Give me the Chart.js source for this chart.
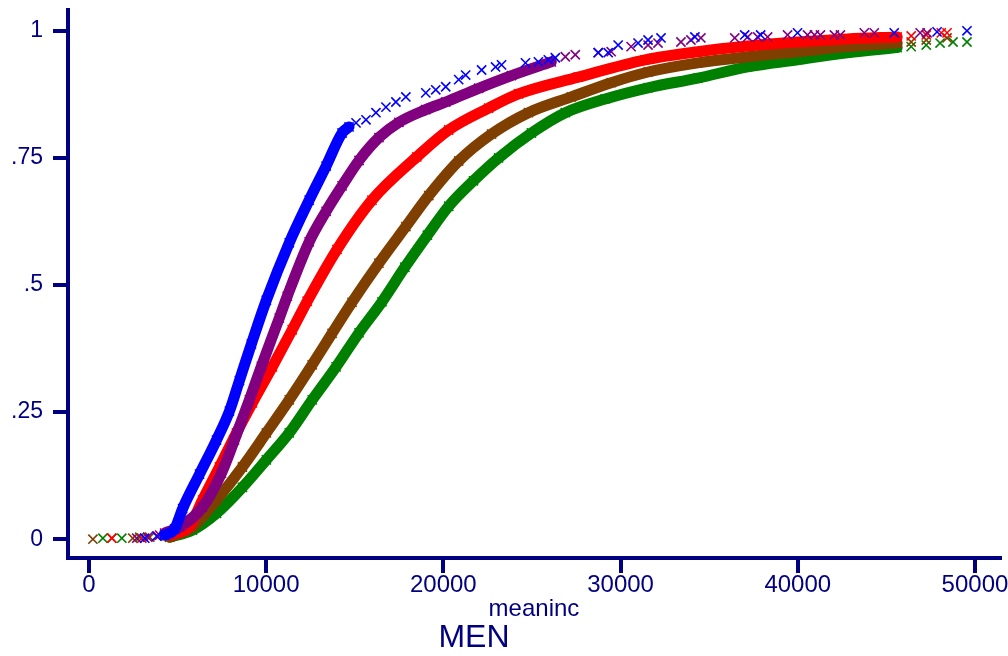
<!DOCTYPE html>
<html>
<head>
<meta charset="utf-8">
<script src="https://cdn.jsdelivr.net/npm/chart.js@4"></script>
<style>
html,body{margin:0;padding:0;background:#fff;}
#wrap{width:1008px;height:656px;}
</style>
</head>
<body>
<div id="wrap"><canvas id="c" width="1008" height="656"></canvas></div>
<script>
// ---- tick definitions ----
const xTickValues = [0, 10000, 20000, 30000, 40000, 50000];
const yTickValues = [0, 0.25, 0.5, 0.75, 1];
const yTickLabels = ['0', '.25', '.5', '.75', '1'];
const xTitle = 'meaninc';
const chartTitle = 'MEN';

// ---- series (meaninc, cumulative share) ----
// dense part of each curve
const blueBody = [[4274,0.008],[4837,0.020],[5287,0.060],[6243,0.128],[7199,0.195],[7930,0.252],[8492,0.312],[9167,0.384],[10011,0.470],[11304,0.583],[12429,0.667],[13385,0.734],[14285,0.799],[14679,0.811]];
const purpleBody = [[4274,0.012],[5118,0.024],[6411,0.063],[7480,0.130],[8211,0.195],[9055,0.274],[9730,0.340],[10742,0.435],[11192,0.478],[12429,0.585],[13385,0.645],[14285,0.695],[15241,0.745],[16366,0.790],[17491,0.820],[19009,0.845],[20134,0.860],[21990,0.887],[23846,0.912],[26095,0.939]];
const redBody = [[4555,0.008],[5680,0.026],[6411,0.077],[7367,0.142],[8324,0.209],[9223,0.268],[10348,0.339],[11473,0.412],[12316,0.468],[14000,0.570],[15972,0.667],[18503,0.752],[20302,0.805],[22552,0.848],[24240,0.876],[27614,0.909],[31382,0.943],[34363,0.959],[37175,0.970],[39987,0.978],[42799,0.984],[45611,0.988]];
const brownBody = [[4555,0.004],[5849,0.024],[7199,0.077],[8661,0.142],[10011,0.209],[11304,0.274],[12598,0.343],[13722,0.405],[14847,0.466],[16366,0.543],[17884,0.615],[19178,0.676],[20865,0.744],[22721,0.797],[24802,0.839],[27220,0.870],[29470,0.898],[31551,0.919],[34363,0.937],[37175,0.949],[39987,0.959],[42799,0.969],[45611,0.976]];
const greenBody = [[4555,0.004],[5849,0.018],[7199,0.051],[8661,0.102],[10011,0.156],[11304,0.209],[12598,0.274],[13947,0.339],[15241,0.406],[16535,0.467],[17828,0.535],[19100,0.598],[20303,0.655],[21700,0.705],[23115,0.750],[24971,0.799],[26883,0.839],[29133,0.866],[31551,0.888],[34363,0.907],[37175,0.929],[39987,0.943],[42799,0.957],[45611,0.967]];

// sparse crosses at both ends of each curve
const blueTail = [[3149,0.002],[3824,0.006],[15072,0.819],[15635,0.825],[16197,0.839],[16760,0.850],[17322,0.860],[17884,0.870],[19009,0.878],[19572,0.884],[20134,0.890],[20865,0.904],[21259,0.913],[22159,0.923],[22946,0.929],[23284,0.933],[24633,0.937],[25364,0.939],[25926,0.943],[26320,0.947],[28739,0.957],[29301,0.957],[29864,0.972],[30988,0.976],[31551,0.982],[32282,0.986],[34194,0.988],[37006,0.992],[37906,0.992],[39987,0.996],[45442,0.996],[47860,0.998],[49548,1.0]];
const purpleTail = [[2700,0.002],[3318,0.004],[3993,0.008],[26883,0.949],[27445,0.953],[28739,0.957],[29470,0.959],[30595,0.969],[31551,0.972],[32113,0.976],[33407,0.978],[33969,0.982],[34532,0.986],[36444,0.986],[37175,0.988],[37737,0.988],[38299,0.988],[39424,0.992],[40549,0.992],[40943,0.992],[41280,0.992],[42067,0.992],[42405,0.992],[43755,0.996],[44317,0.996],[46905,0.996],[47298,0.996]];
const redTail = [[1294,0.002],[2981,0.002],[3880,0.006],[46400,0.990],[47250,0.992],[48100,0.996],[48423,0.996]];
const brownTail = [[225,0.0],[1294,0.002],[2475,0.002],[3430,0.004],[46400,0.978],[47250,0.982],[48423,0.986]];
const greenTail = [[787,0.002],[1856,0.002],[2868,0.004],[46400,0.969],[47250,0.972],[48030,0.976],[48761,0.978],[49548,0.978]];

const colors = {blue:'#0000ff', purple:'#800080', red:'#ff0000', brown:'#7f3f00', green:'#008000'};
const navy = '#000080';

function pts(a){ return a.map(p => ({x:p[0], y:p[1]})); }
function body(arr, col, ord){
  return {data: pts(arr), showLine:true, cubicInterpolationMode: 'monotone',
    borderColor: col, backgroundColor: col, borderWidth: 11,
    borderCapStyle:'round', borderJoinStyle:'round', pointStyle:'crossRot', pointRadius:6.5,
    pointBorderWidth:1.6, pointBorderColor: col, order: ord};
}
function tail(arr, col, ord){
  return {data: pts(arr), showLine:false, borderColor: col, backgroundColor: col,
    pointStyle:'crossRot', pointRadius:6.5, pointBorderWidth:1.6, pointBorderColor: col, order: ord};
}

const font = 'Liberation Sans, Arial, Helvetica, sans-serif';

// bottom caption drawn as canvas text
const captionPlugin = {
  id: 'caption',
  afterDraw(chart) {
    const ctx = chart.ctx;
    ctx.save();
    ctx.font = '32px ' + font;
    ctx.fillStyle = navy;
    ctx.textAlign = 'center';
    ctx.textBaseline = 'middle';
    ctx.fillText(chartTitle, 474, 638);
    ctx.restore();
  }
};

new Chart(document.getElementById('c'), {
  type: 'scatter',
  data: { datasets: [
    body(blueBody, colors.blue, 0), tail(blueTail, colors.blue, 0),
    body(purpleBody, colors.purple, 1), tail(purpleTail, colors.purple, 1),
    body(redBody, colors.red, 2), tail(redTail, colors.red, 2),
    body(brownBody, colors.brown, 3), tail(brownTail, colors.brown, 3),
    body(greenBody, colors.green, 4), tail(greenTail, colors.green, 4)
  ]},
  plugins: [captionPlugin],
  options: {
    responsive: false, animation: false, devicePixelRatio: 1,
    layout: { padding: { left: 0, right: 5, top: 10, bottom: 36 } },
    plugins: { legend: { display: false }, tooltip: { enabled: false }, title: { display: false } },
    scales: {
      x: {
        type: 'linear', min: -1181, max: 51406,
        afterBuildTicks: s => { s.ticks = xTickValues.map(v => ({value: v})); },
        afterFit: s => { s.height = 62; s.paddingLeft = 0; s.paddingRight = 0; },
        border: { display: true, color: navy, width: 4 },
        grid: { display: true, drawOnChartArea: false, drawTicks: true, color: navy, lineWidth: 4, tickLength: 15, tickColor: navy, tickWidth: 4 },
        ticks: { color: navy, font: { family: font, size: 24 }, padding: -2, maxRotation: 0, autoSkip: false,
          callback: v => String(v) },
        title: { display: true, text: xTitle, color: navy, font: { family: font, size: 24, lineHeight: 0.9 }, padding: { top: 0, bottom: 0 } }
      },
      y: {
        type: 'linear', min: -0.037, max: 1.041,
        afterBuildTicks: s => { s.ticks = yTickValues.map(v => ({value: v})); },
        afterFit: s => { s.width = 68; s.paddingTop = 0; s.paddingBottom = 0; },
        border: { display: true, color: navy, width: 4 },
        grid: { display: true, drawOnChartArea: false, drawTicks: true, color: navy, lineWidth: 4, tickLength: 15, tickColor: navy, tickWidth: 4 },
        ticks: { color: navy, font: { family: font, size: 23 }, padding: 10, autoSkip: false,
          callback: v => { const i = yTickValues.indexOf(v); return i >= 0 ? yTickLabels[i] : ''; } }
      }
    }
  }
});
</script>
</body>
</html>
